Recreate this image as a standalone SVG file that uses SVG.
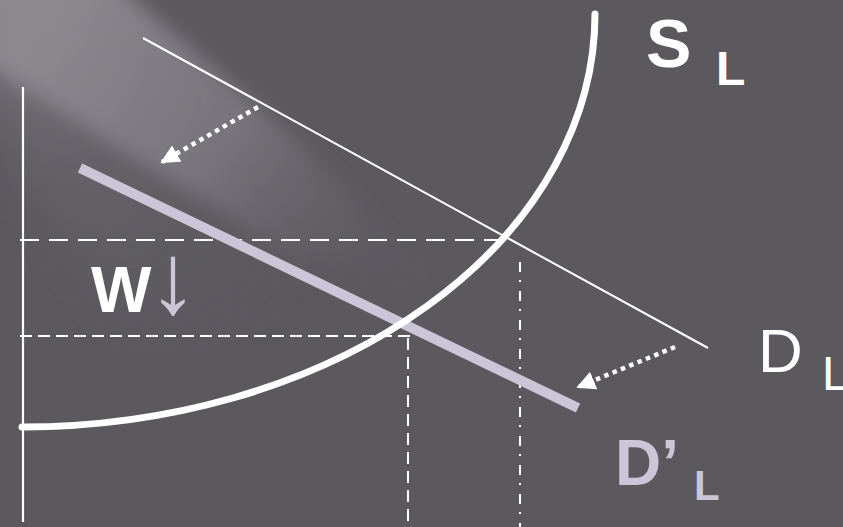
<svg xmlns="http://www.w3.org/2000/svg" width="843" height="527" viewBox="0 0 843 527">
<defs>
<linearGradient id="beam" gradientUnits="userSpaceOnUse" x1="60" y1="20" x2="420" y2="300">
<stop offset="0" stop-color="#8c898f" stop-opacity="0.95"/>
<stop offset="0.45" stop-color="#838087" stop-opacity="0.7"/>
<stop offset="1" stop-color="#5b595e" stop-opacity="0"/>
</linearGradient>
<linearGradient id="beam2" gradientUnits="userSpaceOnUse" x1="0" y1="100" x2="250" y2="350">
<stop offset="0" stop-color="#737076" stop-opacity="0.8"/>
<stop offset="1" stop-color="#5b595e" stop-opacity="0"/>
</linearGradient>
<filter id="soft" filterUnits="userSpaceOnUse" x="-200" y="-200" width="1000" height="900"><feGaussianBlur stdDeviation="10"/></filter>
<filter id="soft2" filterUnits="userSpaceOnUse" x="-200" y="-200" width="1000" height="900"><feGaussianBlur stdDeviation="25"/></filter>
<marker id="ah" viewBox="0 0 10 10" refX="9" refY="5" markerWidth="4.2" markerHeight="4.2" orient="auto" markerUnits="strokeWidth">
<path d="M0,0 L10,5 L0,10 Z" fill="#ffffff"/>
</marker>
<style>
.w{stroke:#ffffff;fill:none}
.lav{fill:#cbc6d7}
.lbl{font-family:"Liberation Sans",Arial,sans-serif}
</style>
</defs>
<rect width="843" height="527" fill="#5b595e"/>
<polygon points="-40,60 -40,-40 60,-40 200,200 380,320 120,320" fill="url(#beam2)" filter="url(#soft2)"/>
<polygon points="-20,-20 112,-20 300,143 440,290 300,260 120,150 -20,60" fill="url(#beam)" filter="url(#soft)"/>
<g id="connectors">
<line id="axis" class="w" x1="23" y1="87" x2="23" y2="522" stroke-width="2.2"/>
<line id="wage1" class="w" x1="20" y1="240" x2="505" y2="240" stroke-width="2" stroke-dasharray="19 10"/>
<line id="wage2" class="w" x1="20" y1="336" x2="410" y2="336" stroke-width="2" stroke-dasharray="12 6"/>
<line id="qty2" class="w" x1="408" y1="338" x2="408" y2="527" stroke-width="2" stroke-dasharray="12 7"/>
<line id="qty1" class="w" x1="520" y1="262" x2="520" y2="527" stroke-width="2" stroke-dasharray="10 8 2 9"/>
<line id="DL" class="w" x1="143" y1="38" x2="708" y2="348" stroke-width="2"/>
<line id="DpL" x1="80" y1="168" x2="578" y2="408" stroke="#cbc6d7" stroke-width="10"/>
<path id="SL" class="w" d="M22,427 A573,413 0 0 0 595,14" stroke-width="7" stroke-linecap="round"/>
<line id="shift1" class="w" x1="258" y1="107" x2="162" y2="162" stroke-width="4.5" stroke-dasharray="4.5 4.5" marker-end="url(#ah)"/>
<line id="shift2" class="w" x1="675" y1="347" x2="578" y2="387" stroke-width="4.5" stroke-dasharray="4.5 4.5" marker-end="url(#ah)"/>
</g>
<g id="label-SL" class="lbl" fill="#ffffff" font-weight="bold">
<text x="646" y="67" font-size="68">S</text>
<text x="716" y="85" font-size="48">L</text>
</g>
<g id="label-DL" class="lbl" fill="#ffffff">
<text x="758" y="372" font-size="62">D</text>
<text x="822" y="390" font-size="48">L</text>
</g>
<g id="label-DpL" class="lbl lav" font-weight="bold">
<text x="615" y="485" font-size="64">D’</text>
<text x="694" y="500" font-size="42">L</text>
</g>
<g id="label-W" class="lbl">
<text x="91" y="312" font-size="64" font-weight="bold" fill="#ffffff">W</text>
<text x="148" y="313" font-size="100" class="lav">↓</text>
</g>
</svg>
